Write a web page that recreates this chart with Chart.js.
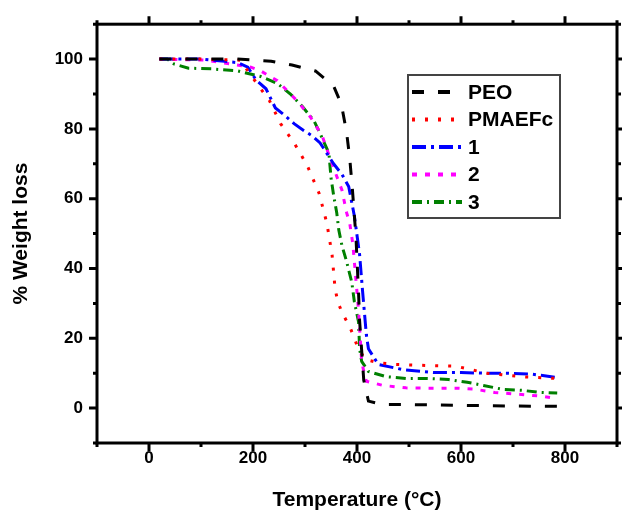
<!DOCTYPE html>
<html>
<head>
<meta charset="utf-8">
<script src="https://cdn.jsdelivr.net/npm/chart.js@4.4.1/dist/chart.umd.min.js"></script>
<style>
  html, body { margin: 0; padding: 0; background: #fff; }
  canvas { display: block; }
</style>
</head>
<body>
<canvas id="chart" width="622" height="513"></canvas>
<script>
// ---------- DATA (temperature in °C, weight in %) ----------
const peoT = [20, 100, 170, 235, 275, 320, 355, 370, 380, 386, 391, 398, 403, 405, 413, 422, 450, 500, 600, 700, 790];
const peoW = [100, 100, 100, 99.4, 98.3, 96.6, 92.3, 87, 79, 71.6, 63, 49, 33, 25, 8, 2, 1, 1, 0.8, 0.6, 0.5];

const pmaT = [20, 100, 175, 232, 253, 279, 304, 327, 342, 352, 358, 364, 374, 387, 400, 415, 440, 475, 535, 590, 650, 715, 785];
const pmaW = [100, 100, 99.7, 88, 81.5, 76, 69.6, 61.6, 53, 44, 34, 30, 26.6, 23, 18, 14, 13, 12.5, 12.2, 12, 10, 9, 8.5];

const s1T = [20, 100, 170, 190, 206, 225, 243, 260, 279, 298, 314, 329, 342, 355, 371, 384, 395, 405, 411, 418, 422, 441, 489, 548, 600, 646, 690, 738, 783];
const s1W = [100, 100, 99, 97.7, 94, 91.5, 86, 84, 81.5, 79.5, 78, 76, 73, 70, 67, 63.5, 55, 44, 33, 21, 17, 12.5, 11, 10.2, 10.2, 10, 10, 9.7, 8.8];

const s2T = [20, 108, 196, 215, 247, 285, 310, 333, 357, 371, 380, 386, 392, 403, 405, 409, 413, 418, 450, 494, 545, 593, 627, 665, 707, 755, 780];
const s2W = [100, 99.7, 97.7, 96.6, 93.8, 88, 83.5, 78, 68, 62.5, 56, 53, 47, 28, 23, 13.4, 10.5, 7.7, 6.5, 5.8, 5.7, 5.7, 5.4, 4.5, 4, 3.4, 2.8];

const s3T = [20, 35, 48, 76, 120, 171, 215, 247, 272, 295, 317, 329, 346, 350, 355, 361, 365, 371, 380, 390, 395, 403, 405, 409, 422, 456, 494, 536, 576, 612, 643, 679, 717, 751, 785];
const s3W = [100, 100, 98.6, 97.4, 97.2, 96.6, 95, 93, 90, 86.4, 82.4, 78.7, 73, 66, 61, 56, 51, 46.6, 42, 36, 30.4, 24.7, 17, 13.4, 10.5, 9, 8.5, 8.5, 8.2, 7.4, 6.5, 5.4, 5.1, 4.5, 4.3];

const seriesNames = ["PEO", "PMAEFc", "1", "2", "3"];
const seriesColors = ["#000000", "#ff0000", "#0000ff", "#ff00ff", "#008000"];
const seriesDash = [[12, 14], [3, 10], [14, 5, 3, 5], [5, 8], [10, 5, 2, 5]];

const FONT = "'Liberation Sans', Arial, sans-serif";

function pts(t, w) {
  return t.map((v, i) => ({ x: v, y: w[i] }));
}

const allData = [pts(peoT, peoW), pts(pmaT, pmaW), pts(s1T, s1W), pts(s2T, s2W), pts(s3T, s3W)];

// ---------- FRAME, TICKS, LEGEND ----------
const framePlugin = {
  id: "frame",
  afterDraw(chart) {
    const ctx = chart.ctx;
    const a = chart.chartArea;
    const xs = chart.scales.x, ys = chart.scales.y;
    ctx.save();
    ctx.strokeStyle = "#000";
    ctx.lineWidth = 3;
    ctx.strokeRect(a.left, a.top, a.right - a.left, a.bottom - a.top);

    // ticks on all four sides, pointing out
    ctx.lineWidth = 3;
    xs.ticks.forEach(t => {
      let px = xs.getPixelForValue(t.value);
      let len = t.value % 200 === 0 ? 8 : 4;
      ctx.beginPath();
      ctx.moveTo(px, a.bottom); ctx.lineTo(px, a.bottom + len);
      ctx.moveTo(px, a.top); ctx.lineTo(px, a.top - len);
      ctx.stroke();
    });
    ys.ticks.forEach(t => {
      let py = ys.getPixelForValue(t.value);
      let len = t.value % 20 === 0 ? 8 : 4;
      ctx.beginPath();
      ctx.moveTo(a.left, py); ctx.lineTo(a.left - len, py);
      ctx.moveTo(a.right, py); ctx.lineTo(a.right + len, py);
      ctx.stroke();
    });

    // legend box
    let bx = 408, by = 75, bw = 152, bh = 143;
    ctx.fillStyle = "#fff";
    ctx.fillRect(bx, by, bw, bh);
    ctx.strokeStyle = "#444";
    ctx.lineWidth = 2;
    ctx.strokeRect(bx, by, bw, bh);

    ctx.font = "bold 21px " + FONT;
    ctx.textBaseline = "middle";
    ctx.textAlign = "left";
    chart.data.datasets.forEach((ds, i) => {
      let cy = 92 + i * 27.5;
      ctx.beginPath();
      ctx.setLineDash(ds.borderDash);
      ctx.strokeStyle = ds.borderColor;
      ctx.lineWidth = 4;
      ctx.moveTo(412, cy); ctx.lineTo(462, cy);
      ctx.stroke();
      ctx.setLineDash([]);
      ctx.fillStyle = "#000";
      ctx.fillText(ds.label, 468, cy + 1);
    });
    ctx.restore();
  }
};

// ---------- CHART ----------
const chart = new Chart(document.getElementById("chart"), {
  type: "line",
  data: {
    datasets: seriesNames.map((n, i) => ({
      label: n,
      data: allData[i],
      borderColor: seriesColors[i],
      backgroundColor: seriesColors[i],
      borderDash: seriesDash[i],
      borderWidth: 3,
      pointRadius: 0,
      tension: 0,
      fill: false
    }))
  },
  options: {
    responsive: false,
    animation: false,
    devicePixelRatio: 1,
    layout: { padding: { top: 20, right: 1, left: 0, bottom: 0 } },
    plugins: {
      legend: { display: false },
      tooltip: { enabled: false }
    },
    scales: {
      x: {
        type: "linear",
        min: -100,
        max: 900,
        grid: { display: false, drawTicks: false },
        border: { display: false },
        ticks: {
          stepSize: 100,
          autoSkip: false,
          maxRotation: 0,
          padding: 5,
          color: "#000",
          font: { family: FONT, size: 17, weight: "bold" },
          callback: v => (v % 200 === 0 && v >= 0 && v <= 800) ? v : ""
        },
        title: {
          display: true,
          text: "Temperature (°C)",
          color: "#000",
          font: { family: FONT, size: 21, weight: "bold" },
          padding: { top: 0, bottom: 0 }
        },
        afterFit: s => { s.height = 70; }
      },
      y: {
        min: -10,
        max: 110,
        grid: { display: false, drawTicks: false },
        border: { display: false },
        ticks: {
          stepSize: 10,
          autoSkip: false,
          padding: 14,
          color: "#000",
          font: { family: FONT, size: 17, weight: "bold" },
          callback: v => (v % 20 === 0 && v >= 0 && v <= 100) ? v : ""
        },
        title: {
          display: true,
          text: "% Weight loss",
          color: "#000",
          font: { family: FONT, size: 21, weight: "bold" },
          padding: { top: 9, bottom: 0 }
        },
        afterFit: s => { s.width = 97; }
      }
    }
  },
  plugins: [framePlugin]
});
</script>
</body>
</html>
